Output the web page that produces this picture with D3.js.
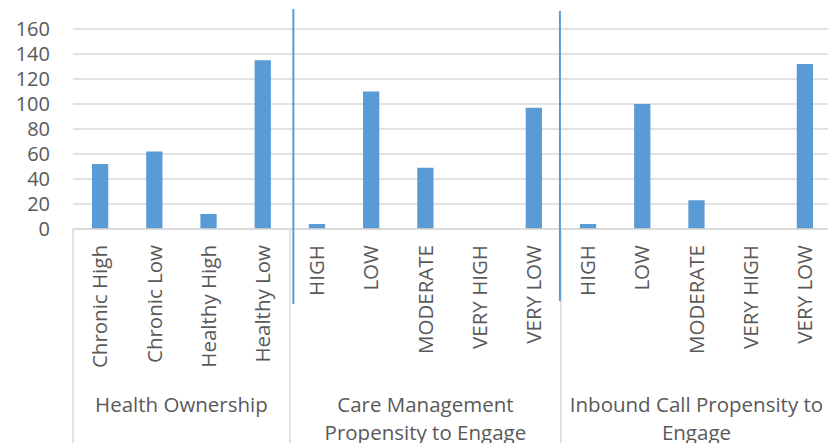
<!DOCTYPE html>
<html>
<head>
<meta charset="utf-8">
<script src="https://cdn.jsdelivr.net/npm/d3@7"></script>
<style>
  html, body { margin: 0; padding: 0; background: #fff; }
  svg { display: block; }
  text { font-family: "Open Sans", "Noto Sans", sans-serif; fill: #595959; }
</style>
</head>
<body>
<svg id="chart" width="828" height="443"></svg>
<script>
// Group headings (multi-line) and the categories inside each group
const groupNames = [
  ["Health Ownership"],
  ["Care Management", "Propensity to Engage"],
  ["Inbound Call Propensity to", "Engage"]
];
const healthOwnershipCats = ["Chronic High", "Chronic Low", "Healthy High", "Healthy Low"];
const careMgmtCats = ["HIGH", "LOW", "MODERATE", "VERY HIGH", "VERY LOW"];
const inboundCallCats = ["HIGH", "LOW", "MODERATE", "VERY HIGH", "VERY LOW"];

// Counts per category
const healthOwnershipValues = [52, 62, 12, 135];
const careMgmtValues = [4, 110, 49, 0, 97];
const inboundCallValues = [4, 100, 23, 0, 132];

const yTicks = [0, 20, 40, 60, 80, 100, 120, 140, 160];

const groupCats = [healthOwnershipCats, careMgmtCats, inboundCallCats];
const groupVals = [healthOwnershipValues, careMgmtValues, inboundCallValues];

// Flatten into one row per bar
const rows = [];
groupCats.forEach((cats, g) => cats.forEach((c, i) => {
  rows.push({ key: g + "-" + i, group: g, label: c, value: groupVals[g][i] });
}));

const svg = d3.select("#chart");
const plotLeft = 73, plotRight = 832, plotTop = 29, plotBase = 229;
const fontSize = "20.5px";

const x = d3.scaleBand()
  .domain(rows.map(d => d.key))
  .range([plotLeft, plotRight])
  .paddingInner(0.7)
  .paddingOuter(0.35);

const y = d3.scaleLinear().domain([0, 160]).range([plotBase, plotTop]);

// Horizontal gridlines
svg.append("g")
  .selectAll("line")
  .data(yTicks)
  .join("line")
  .attr("x1", plotLeft).attr("x2", 828)
  .attr("y1", d => y(d)).attr("y2", d => y(d))
  .attr("stroke", "#d9d9d9")
  .attr("stroke-width", 1.5);

// Y axis labels
svg.append("g")
  .selectAll("text")
  .data(yTicks)
  .join("text")
  .attr("x", 50)
  .attr("y", d => y(d))
  .attr("dy", "0.35em")
  .attr("text-anchor", "end")
  .style("font-size", "20px")
  .text(d => d);

// Bars
svg.append("g")
  .selectAll("rect")
  .data(rows)
  .join("rect")
  .attr("x", d => x(d.key))
  .attr("width", x.bandwidth())
  .attr("y", d => y(d.value))
  .attr("height", d => plotBase - y(d.value))
  .attr("fill", "#5b9bd5");

// Group boundaries along the category axis
const step = x.step();
const bounds = [];
let idx = 0;
groupCats.forEach(cats => {
  const start = plotLeft + idx * step;
  idx += cats.length;
  bounds.push([start, plotLeft + idx * step]);
});

const sep = svg.append("g").attr("stroke", "#d9d9d9").attr("stroke-width", 1.5);
bounds.forEach(([a, b], i) => {
  sep.append("line").attr("x1", a).attr("x2", a).attr("y1", plotBase).attr("y2", 443);
  if (i === bounds.length - 1) {
    sep.append("line").attr("x1", b).attr("x2", b).attr("y1", plotBase).attr("y2", 443);
  }
});

// Axis baseline
svg.append("line")
  .attr("x1", plotLeft).attr("x2", 828)
  .attr("y1", plotBase).attr("y2", plotBase)
  .attr("stroke", "#d9d9d9")
  .attr("stroke-width", 1.5);

// Rotated category labels
svg.append("g")
  .selectAll("text")
  .data(rows)
  .join("text")
  .attr("transform", d => `translate(${x(d.key) + x.bandwidth() / 2},245) rotate(-90)`)
  .attr("dy", "0.35em")
  .attr("text-anchor", "end")
  .style("font-size", fontSize)
  .text(d => d.label);

// Group headings
bounds.forEach(([a, b], g) => {
  const t = svg.append("text")
    .attr("text-anchor", "middle")
    .style("font-size", fontSize);
  groupNames[g].forEach((line, j) => {
    t.append("tspan")
      .attr("x", (a + b) / 2)
      .attr("y", 411.5 + j * 28)
      .text(line);
  });
});

// Blue divider strokes between groups
const dividers = [
  { x: bounds[1][0] + 3.5, y1: 9, y2: 304 },
  { x: bounds[2][0] - 1, y1: 11, y2: 301 }
];
svg.append("g")
  .selectAll("line")
  .data(dividers)
  .join("line")
  .attr("x1", d => d.x).attr("x2", d => d.x)
  .attr("y1", d => d.y1).attr("y2", d => d.y2)
  .attr("stroke", "#5b9bd5")
  .attr("stroke-width", 2);
</script>
</body>
</html>
